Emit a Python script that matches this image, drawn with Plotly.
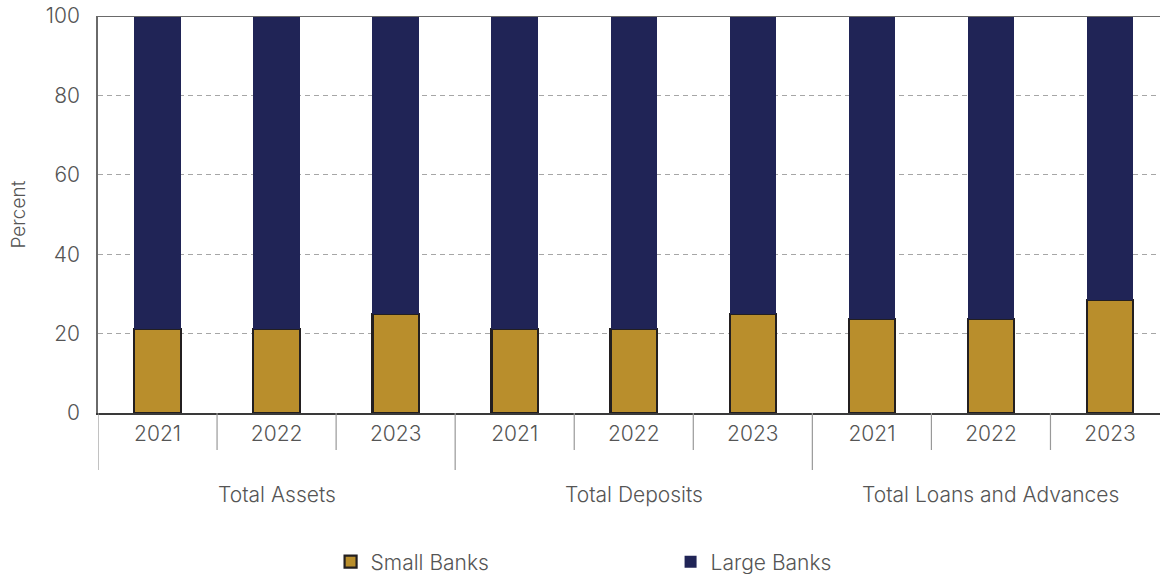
import plotly.graph_objects as go

groups = ["Total Assets"] * 3 + ["Total Deposits"] * 3 + ["Total Loans and Advances"] * 3
years = ["2021", "2022", "2023"] * 3
small_banks = [21.2, 21.2, 24.9, 21.2, 21.2, 24.9, 23.7, 23.7, 28.5]
large_banks = [100 - v for v in small_banks]

keys = [f"{g}|{y}" for g, y in zip(groups, years)]

FONT = "Inter, Roboto, sans-serif"
GREY = "#555555"
FS = 21
W = 300

PLOT_TOP, PLOT_BOTTOM = 16, 413
PLOT_H = PLOT_BOTTOM - PLOT_TOP


def py(pixel_y):
    """convert a pixel row below the plot into paper y"""
    return -(pixel_y - PLOT_BOTTOM) / PLOT_H


fig = go.Figure()
fig.add_trace(go.Bar(
    x=keys, y=small_banks, name="Small Banks",
    marker=dict(color="#b98e2c", line=dict(color="#231f20", width=2.2)),
    width=0.39,
))
fig.add_trace(go.Bar(
    x=keys, y=large_banks, name="Large Banks",
    marker=dict(color="#202456", line=dict(width=0)),
    width=0.39,
))

fig.update_layout(
    barmode="stack",
    width=1160, height=574,
    margin=dict(l=98, r=0, t=PLOT_TOP, b=574 - PLOT_BOTTOM, autoexpand=False),
    plot_bgcolor="white", paper_bgcolor="white",
    font=dict(family=FONT, size=FS, color=GREY, weight=W),
    showlegend=True,
    legend=dict(orientation="h", x=0.219, xanchor="left",
                yref="container", y=1 - 562 / 574, yanchor="middle",
                entrywidth=295, traceorder="normal",
                font=dict(size=FS, color=GREY, family=FONT, weight=W)),
)
fig.update_xaxes(
    type="category", categoryorder="array", categoryarray=keys,
    tickvals=keys, ticktext=years,
    range=[-0.5, 8.42], automargin=False,
    showline=True, linecolor="#3a3a3a", linewidth=1.5,
    ticks="", ticklabelstandoff=1,
    tickfont=dict(size=FS, color=GREY, family=FONT, weight=W),
    showgrid=False,
)
fig.update_yaxes(
    range=[0, 100], tickvals=[0, 20, 40, 60, 80, 100], automargin=False,
    showgrid=True, gridcolor="#a6a6a6", griddash="5px,4px", gridwidth=1,
    showline=True, linecolor="#6a6a6a", linewidth=1.5,
    zeroline=False, ticks="", ticklabelstandoff=12,
    tickfont=dict(size=FS, color=GREY, family=FONT, weight=W),
)
# y-axis title
fig.add_annotation(text="Percent", xref="paper", yref="paper", x=-80 / 1062, y=0.5,
                   textangle=-90, showarrow=False, xanchor="center", yanchor="middle",
                   font=dict(size=19, color=GREY, family=FONT, weight=W))
# top frame line
fig.add_shape(type="line", xref="paper", yref="y", x0=0, x1=1, y0=100, y1=100,
              line=dict(color="#6a6a6a", width=2), layer="above")
# boundary ticks between categories and longer group dividers
n = len(keys)
for i in range(n + 1):
    is_group_edge = (i == 0) or (i == n) or (groups[i] != groups[i - 1])
    fig.add_shape(type="line", xref="x", yref="paper", x0=i - 0.5, x1=i - 0.5,
                  y0=0, y1=py(470 if is_group_edge else 450),
                  line=dict(color="#999999", width=1.2), layer="above")
# group labels
seen = []
for g in groups:
    if g not in seen:
        seen.append(g)
for g in seen:
    idx = [k for k, gg in zip(keys, groups) if gg == g]
    fig.add_annotation(text=g, xref="x", yref="paper", x=idx[len(idx) // 2], y=py(494),
                       showarrow=False, xanchor="center", yanchor="middle",
                       font=dict(size=FS, color=GREY, family=FONT, weight=W))

fig.write_html("out.html")
